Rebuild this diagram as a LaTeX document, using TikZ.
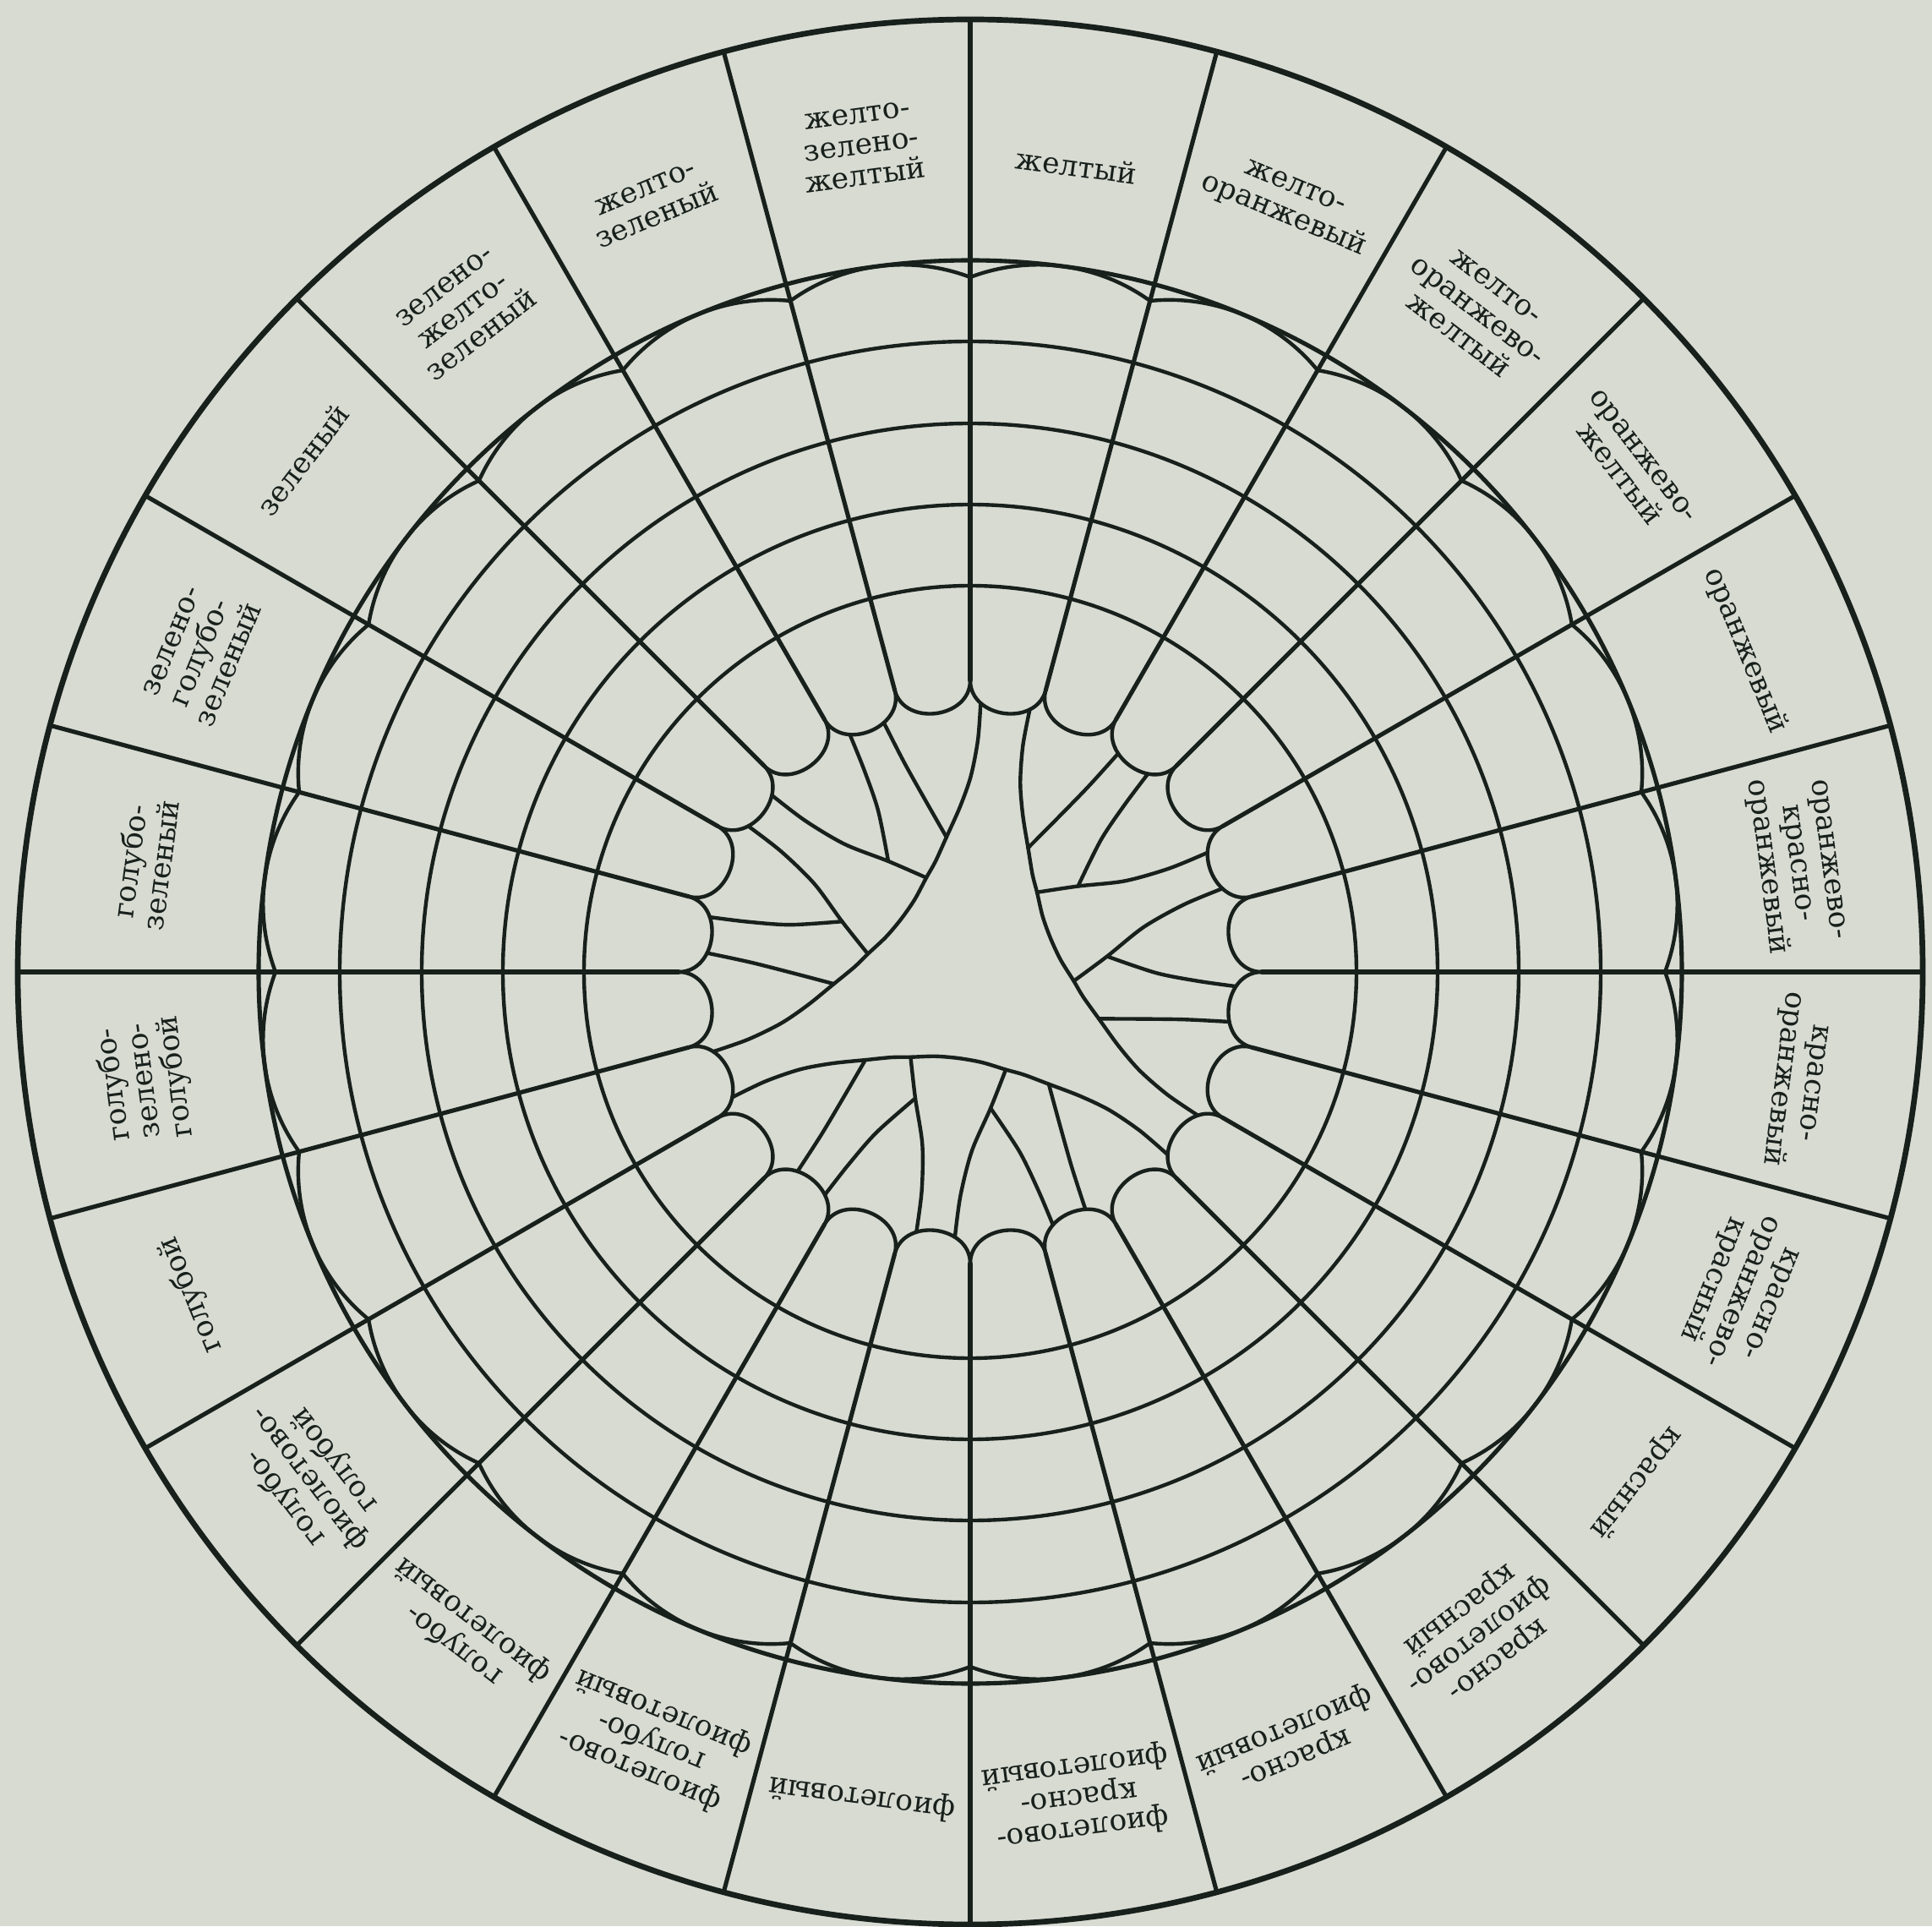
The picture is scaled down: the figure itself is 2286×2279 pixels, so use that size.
\documentclass[tikz,border=0pt]{standalone}
\usepackage{fontspec}
\setmainfont{DejaVu Serif}
\definecolor{bg}{HTML}{D7DBD2}
\definecolor{ink}{HTML}{18201C}
\begin{document}
\begin{tikzpicture}[x=0.01cm,y=0.01cm,line join=round,line cap=round,
  outer/.style={draw=ink,line width=1.9pt},
  spoke/.style={draw=ink,line width=1.45pt},
  ring/.style={draw=ink,line width=1.25pt},
  tree/.style={draw=ink,line width=1.25pt},
  lab/.style={text=ink,align=center,inner sep=0pt,font=\fontsize{9.8}{10.5}\selectfont}]
\useasboundingbox (-1148,-1129) rectangle (1138,1150);
\fill[bg] (-1148,-1129) rectangle (1138,1150);
% outer ring
\draw[outer] (0,0) circle[radius=1127];
\draw[spoke] (0,0) circle[radius=842];
\foreach \r in {746,649,553,457} \draw[ring] (0,0) circle[radius=\r];
% scallops
\foreach \a in {0,15,...,345}
  \draw[ring] (\a:822) arc[start angle=\a+7.5-28.25, end angle=\a+7.5+28.25, radius=226.7];
% spokes
\foreach \a in {0,15,...,345} \draw[spoke] (\a:345) -- (\a:1127);
% lobe caps
\foreach \a in {0,15,...,345}
  \draw[tree] (\a:345) .. controls (\a:300) and (\a+15:300) .. (\a+15:345);
% tree
\foreach \k in {0,120,240}{
  \foreach \s in {1,-1}{
    \begin{scope}[rotate=82.5+\k, yscale=\s]
      \path (22.5:345) .. controls (22.5:300) and (37.5:300) .. (37.5:345)
        coordinate[pos=0.35] (a3) coordinate[pos=0.70] (a4);
      \path (52.5:345) .. controls (52.5:300) and (67.5:300) .. (67.5:345)
        coordinate[pos=0.31] (a5);
      \draw[tree] plot[smooth] coordinates {(a3) (25:260) (22:208) (17.5:162)};
      \draw[tree] plot[smooth] coordinates {(a4) (35.2:270) (37.2:220) (44:163)};
      \draw[tree] plot[smooth] coordinates {(a5) (55:265) (52:212) (44:163) (32.5:123)};
    \end{scope}
  }
  \begin{scope}[rotate=82.5+\k]
    \path (-7.5:345) .. controls (-7.5:300) and (7.5:300) .. (7.5:345) coordinate[pos=0.75] (b1);
    \path (112.5:345) .. controls (112.5:300) and (127.5:300) .. (127.5:345) coordinate[pos=0.25] (b2);
    \draw[tree] plot[smooth] coordinates {(b1) (5.6:275) (7.3:232) (11:196) (17.5:162) (25:137) (32.5:123) (45:108) (60:103) (75:108) (87.5:123) (95:137) (102.5:162) (109:196) (112.7:232) (114.4:275) (b2)};
  \end{scope}
}
% single-line labels
\foreach \a/\r/\t in {82.5/962/{желтый}, 142.5/995/{зеленый}, 202.5/998/{голубой},
  262.5/985/{фиолетовый}, 322.5/993/{красный}, 22.5/993/{оранжевый}}
  \node[lab, rotate=\a-90] (s\a) at (\a:\r) {\t};
% multi-line labels
\foreach \a/\t in {
  97.5/{желто-\\зелено-\\желтый},
  112.5/{желто-\\зеленый},
  127.5/{зелено-\\желто-\\зеленый},
  157.5/{зелено-\\голубо-\\зеленый},
  172.5/{голубо-\\зеленый},
  187.5/{голубо-\\зелено-\\голубой},
  217.5/{голубо-\\фиолетово-\\голубой},
  232.5/{голубо-\\фиолетовый},
  247.5/{фиолетово-\\голубо-\\фиолетовый},
  277.5/{фиолетово-\\красно-\\фиолетовый},
  292.5/{красно-\\фиолетовый},
  307.5/{красно-\\фиолетово-\\красный},
  337.5/{красно-\\оранжево-\\красный},
  352.5/{красно-\\оранжевый},
  7.5/{оранжево-\\красно-\\оранжевый},
  37.5/{оранжево-\\желтый},
  52.5/{желто-\\оранжево-\\желтый},
  67.5/{желто-\\оранжевый}}
  \node[lab, rotate=\a-90] (l\a) at (\a:985) {\t};
\end{tikzpicture}
\end{document}
